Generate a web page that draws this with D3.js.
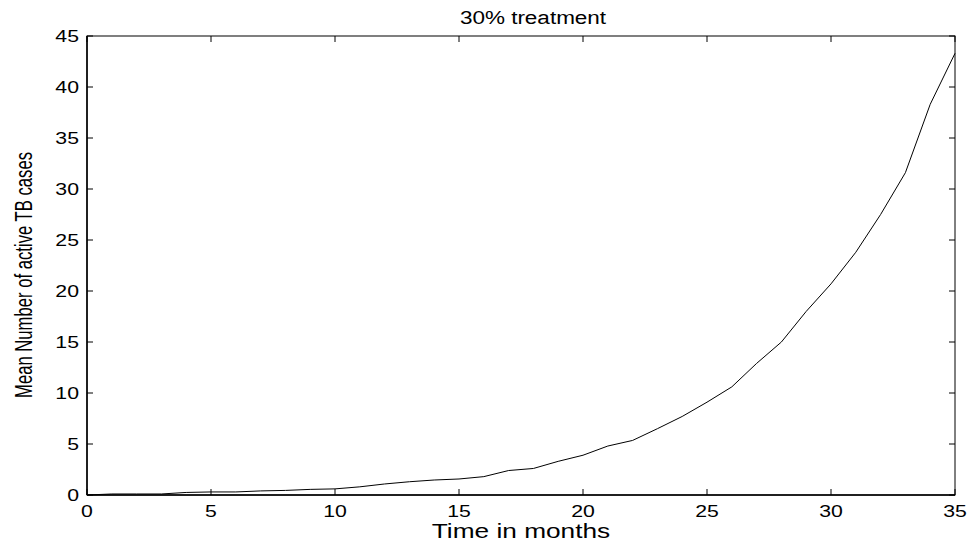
<!DOCTYPE html>
<html>
<head>
<meta charset="utf-8">
<script src="https://cdn.jsdelivr.net/npm/d3@7"></script>
<style>
  body { margin: 0; background: #fff; }
  text { font-family: "Liberation Sans", Arial, sans-serif; fill: #000; }
</style>
</head>
<body>
<div id="chart"></div>
<script>
// data
var months = d3.range(0, 36);
var meanCases = [0, 0.1, 0.1, 0.1, 0.25, 0.3, 0.3, 0.4, 0.45, 0.55,
                 0.6, 0.8, 1.08, 1.3, 1.47, 1.57, 1.8, 2.4, 2.6, 3.3,
                 3.9, 4.8, 5.35, 6.5, 7.7, 9.1, 10.6, 12.9, 15.0, 18.0,
                 20.7, 23.8, 27.5, 31.6, 38.3, 43.3];
var xTicks = [0, 5, 10, 15, 20, 25, 30, 35];
var yTicks = [0, 5, 10, 15, 20, 25, 30, 35, 40, 45];

var W = 973, H = 546;
var pLeft = 87, pRight = 955, pTop = 36, pBottom = 495;
var stretch = 1.25; // the original text is drawn wide

var svg = d3.select("#chart").append("svg")
    .attr("width", W).attr("height", H);

var x = d3.scaleLinear().domain([0, 35]).range([pLeft, pRight]);
var y = d3.scaleLinear().domain([0, 45]).range([pBottom, pTop]);

function wideText(tx, ty, anchor, size, str) {
    return svg.append("text")
        .attr("transform", "translate(" + tx + "," + ty + ") scale(" + stretch + ",1)")
        .attr("text-anchor", anchor)
        .style("font-size", size + "px")
        .text(str);
}

// box
svg.append("rect")
    .attr("x", pLeft).attr("y", pTop)
    .attr("width", pRight - pLeft).attr("height", pBottom - pTop)
    .style("fill", "none").style("stroke", "#000").style("stroke-width", 1);

// ticks inside on all four sides
var tk = 6;
var g = svg.append("g").style("stroke", "#000").style("stroke-width", 1);
xTicks.forEach(function (t) {
    g.append("line").attr("x1", x(t)).attr("x2", x(t)).attr("y1", pBottom).attr("y2", pBottom - tk);
    g.append("line").attr("x1", x(t)).attr("x2", x(t)).attr("y1", pTop).attr("y2", pTop + tk);
});
yTicks.forEach(function (t) {
    g.append("line").attr("x1", pLeft).attr("x2", pLeft + tk).attr("y1", y(t)).attr("y2", y(t));
    g.append("line").attr("x1", pRight).attr("x2", pRight - tk).attr("y1", y(t)).attr("y2", y(t));
});

// left and bottom axes a bit heavier
svg.append("line").attr("x1", pLeft).attr("x2", pLeft).attr("y1", pTop).attr("y2", pBottom)
    .style("stroke", "#000").style("stroke-width", 1.5);
svg.append("line").attr("x1", pLeft).attr("x2", pRight).attr("y1", pBottom).attr("y2", pBottom)
    .style("stroke", "#000").style("stroke-width", 1.5);

// tick labels
xTicks.forEach(function (d) {
    wideText(x(d), 517, "middle", 17, d);
});
yTicks.forEach(function (d) {
    wideText(79, y(d) + 6, "end", 17, d);
});

// line
var line = d3.line()
    .x(function (d, i) { return x(months[i]); })
    .y(function (d) { return y(d); });

svg.append("path")
    .datum(meanCases)
    .attr("d", line)
    .style("fill", "none")
    .style("stroke", "#000")
    .style("stroke-width", 1);

// labels
wideText(533, 24, "middle", 18, "30% treatment");
wideText(521, 538, "middle", 21, "Time in months");

svg.append("text")
    .attr("transform", "translate(32,275) scale(" + stretch + ",1) rotate(-90)")
    .attr("text-anchor", "middle")
    .attr("textLength", 246)
    .attr("lengthAdjust", "spacingAndGlyphs")
    .style("font-size", "19px")
    .text("Mean Number of active TB cases");
</script>
</body>
</html>
